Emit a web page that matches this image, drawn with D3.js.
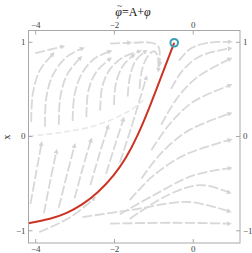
<!DOCTYPE html>
<html>
<head>
<meta charset="utf-8">
<script src="https://cdn.jsdelivr.net/npm/d3@7"></script>
<style>
  body { margin: 0; background: #fff; }
  text { font-family: "Liberation Serif", "DejaVu Serif", serif; }
</style>
</head>
<body>
<div id="chart"></div>
<script>
// ticks
const phiTicks = [-4, -2, 0];
const xTicks = [-1, 0, 1];

// red trajectory
const trajPhi = [-4.17, -3.6, -3.2, -2.8, -2.4, -2.0, -1.7, -1.4, -1.1, -0.8, -0.47];
const trajX = [-0.925, -0.88, -0.82, -0.73, -0.6, -0.42, -0.24, 0.0, 0.3, 0.63, 0.99];

// stream lines, [phi, x] points
const streamUpperLeft = [
  [[-4.1, 0.15], [-4.06, 0.45], [-3.88, 0.7], [-3.55, 0.87]],
  [[-3.75, 0.1], [-3.72, 0.4], [-3.55, 0.65], [-3.2, 0.84], [-2.8, 0.93]],
  [[-3.4, 0.12], [-3.36, 0.42], [-3.18, 0.66], [-2.85, 0.83]],
  [[-3.05, 0.16], [-3.0, 0.44], [-2.82, 0.66], [-2.5, 0.82], [-2.1, 0.9]],
  [[-2.7, 0.2], [-2.65, 0.48], [-2.45, 0.68], [-2.1, 0.82]],
  [[-2.35, 0.27], [-2.3, 0.52], [-2.1, 0.71], [-1.75, 0.84], [-1.35, 0.9]],
  [[-2.0, 0.33], [-1.95, 0.56], [-1.78, 0.74], [-1.5, 0.86]],
  [[-1.65, 0.42], [-1.6, 0.62], [-1.45, 0.8], [-1.2, 0.9]],
  [[-1.35, 0.5], [-1.3, 0.68], [-1.18, 0.82], [-1.0, 0.9], [-0.9, 0.86], [-0.87, 0.7]],
  [[-4.0, 0.88], [-3.3, 0.95]],
  [[-2.1, 0.98], [-1.6, 0.99]],
  [[-1.5, 0.99], [-1.05, 0.99], [-0.87, 0.95], [-0.84, 0.76]]
];
const streamLowerLeft = [
  [[-4.12, -0.72], [-3.98, -0.4], [-3.84, -0.08]],
  [[-3.78, -0.82], [-3.62, -0.48], [-3.46, -0.16]],
  [[-3.4, -0.76], [-3.2, -0.42], [-3.0, -0.1]],
  [[-3.0, -0.66], [-2.78, -0.32], [-2.58, -0.04]],
  [[-2.6, -0.52], [-2.36, -0.18], [-2.15, 0.1]],
  [[-2.2, -0.4], [-1.96, -0.08], [-1.76, 0.18]],
  [[-3.9, -1.02], [-3.1, -0.86], [-2.5, -0.66]],
  [[-1.85, -0.28], [-1.6, 0.04], [-1.38, 0.34], [-1.18, 0.62]]
];
const streamRight = [
  [[-0.35, 0.8], [-0.05, 0.93], [0.4, 0.99], [0.95, 1.0]],
  [[-0.55, 0.5], [-0.25, 0.7], [0.2, 0.85], [0.95, 0.93]],
  [[-0.8, 0.12], [-0.4, 0.4], [0.1, 0.62], [0.95, 0.82]],
  [[-1.05, -0.15], [-0.6, 0.12], [0.0, 0.36], [0.95, 0.54]],
  [[-1.3, -0.45], [-0.8, -0.18], [-0.1, 0.06], [0.95, 0.24]],
  [[-1.6, -0.68], [-1.0, -0.42], [-0.2, -0.2], [0.95, -0.04]],
  [[-1.85, -0.83], [-1.0, -0.63], [0.0, -0.42], [0.95, -0.34]],
  [[-2.8, -0.86], [-1.5, -0.78], [-0.1, -0.7], [0.93, -0.8]],
  [[-1.6, -0.88], [-0.6, -0.62], [0.2, -0.52], [0.93, -0.6]],
  [[-2.1, -0.93], [-0.5, -0.92], [0.93, -0.93]]
];
const separatrix = [[-4.17, 0.0], [-3.3, 0.04], [-2.4, 0.12], [-1.6, 0.27], [-1.25, 0.38]];

const width = 252, height = 253;
const mLeft = 28.5, mRight = 240, mTop = 30.5, mBottom = 243;

const svg = d3.select("#chart").append("svg")
  .attr("width", width)
  .attr("height", height);

const xScale = d3.scaleLinear().domain([-4.17, 1.2]).range([mLeft, mRight]);
const yScale = d3.scaleLinear().domain([-1.135, 1.12]).range([mBottom, mTop]);

svg.append("defs").append("marker")
  .attr("id", "arrow")
  .attr("viewBox", "0 0 10 10")
  .attr("refX", 5).attr("refY", 5)
  .attr("markerWidth", 2.8).attr("markerHeight", 2.8)
  .attr("markerUnits", "strokeWidth")
  .attr("orient", "auto")
  .append("path")
  .attr("d", "M0,0 L10,5 L0,10 z")
  .attr("fill", "#d4d4d4");

const plot = svg.append("g");
plot.append("clipPath").attr("id", "clip")
  .append("rect").attr("x", mLeft).attr("y", mTop)
  .attr("width", mRight - mLeft).attr("height", mBottom - mTop);

const line = d3.line()
  .x(d => xScale(d[0]))
  .y(d => yScale(d[1]))
  .curve(d3.curveCatmullRom);

const streams = plot.append("g").attr("clip-path", "url(#clip)");
streams.selectAll(".stream")
  .data(streamUpperLeft.concat(streamLowerLeft, streamRight))
  .enter().append("path")
  .attr("class", "stream")
  .attr("d", line)
  .attr("fill", "none")
  .attr("stroke", "#d8d8d8")
  .attr("stroke-width", 1.8)
  .attr("stroke-dasharray", "10,2.5")
  .attr("marker-end", "url(#arrow)");

streams.append("path")
  .attr("d", line(separatrix))
  .attr("fill", "none")
  .attr("stroke", "#e8e8e8")
  .attr("stroke-width", 1.6)
  .attr("stroke-dasharray", "6,3");

// trajectory
const traj = trajPhi.map((p, i) => [p, trajX[i]]);
streams.append("path")
  .attr("d", d3.line().x(d => xScale(d[0])).y(d => yScale(d[1])).curve(d3.curveBasis)(traj))
  .attr("fill", "none")
  .attr("stroke", "#cc3322")
  .attr("stroke-width", 2);

const end = traj[traj.length - 1];
svg.append("circle")
  .attr("cx", xScale(end[0])).attr("cy", yScale(end[1]))
  .attr("r", 3.8)
  .attr("fill", "none")
  .attr("stroke", "#3a9fb5")
  .attr("stroke-width", 2);

// frame
svg.append("rect")
  .attr("x", mLeft).attr("y", mTop)
  .attr("width", mRight - mLeft).attr("height", mBottom - mTop)
  .attr("fill", "none").attr("stroke", "#a8a8a8").attr("stroke-width", 1);

const axes = [
  d3.axisTop(xScale).tickValues(phiTicks).tickSizeInner(-4).tickSizeOuter(0),
  d3.axisBottom(xScale).tickValues(phiTicks).tickSizeInner(-4).tickSizeOuter(0),
  d3.axisLeft(yScale).tickValues(xTicks).tickSizeInner(-4).tickSizeOuter(0),
  d3.axisRight(yScale).tickValues(xTicks).tickSizeInner(-4).tickSizeOuter(0)
];
const pos = ["translate(0," + mTop + ")", "translate(0," + mBottom + ")",
             "translate(" + mLeft + ",0)", "translate(" + mRight + ",0)"];
axes.forEach((ax, i) => {
  const g = svg.append("g").attr("transform", pos[i])
    .call(ax.tickFormat(d => d < 0 ? "\u2212" + Math.abs(d) : d).tickPadding(3));
  g.select(".domain").remove();
  g.selectAll("line").attr("stroke", "#a8a8a8");
  g.selectAll("text").attr("font-size", 9).style("fill", "#444")
    .attr("font-family", "Liberation Serif");
});

svg.append("text")
  .attr("transform", "translate(10,137) rotate(-90)")
  .attr("text-anchor", "middle")
  .attr("font-size", 10)
  .style("fill", "#222")
  .text("x");

// title, with the tilde put over the first phi afterwards
const title = svg.append("text")
  .attr("x", 133).attr("y", 16)
  .attr("text-anchor", "middle")
  .attr("font-size", 12)
  .attr("font-family", "Liberation Serif")
  .style("fill", "#111");
title.append("tspan").attr("font-style", "italic").text("\u03C6");
title.append("tspan").text("=A+");
title.append("tspan").attr("font-style", "italic").text("\u03C6");

const phiBox = title.node().getExtentOfChar(0);
svg.append("text")
  .attr("x", phiBox.x + phiBox.width / 2 + 1)
  .attr("y", 8.5)
  .attr("text-anchor", "middle")
  .attr("font-size", 9)
  .attr("font-family", "Liberation Serif")
  .style("fill", "#111")
  .text("~");
</script>
</body>
</html>
